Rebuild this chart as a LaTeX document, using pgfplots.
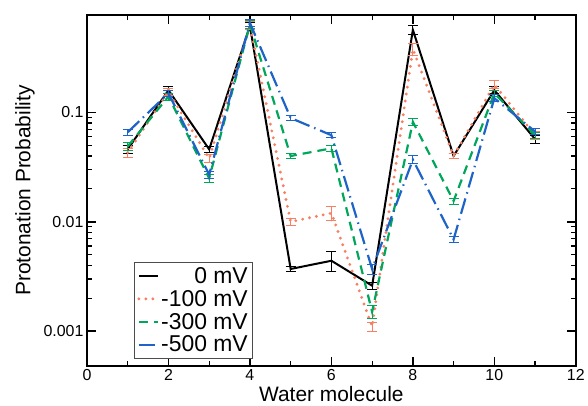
\documentclass[border=0pt]{standalone}
\usepackage{fontspec}
\setmainfont{Liberation Sans}
\usepackage{pgfplots}
\pgfplotsset{compat=1.18}
\usetikzlibrary{calc}
\definecolor{c0}{RGB}{0,0,0}
\definecolor{c100}{RGB}{247,128,100}
\definecolor{c300}{RGB}{0,166,90}
\definecolor{c500}{RGB}{30,100,200}

\begin{document}
\begin{tikzpicture}
\begin{axis}[scale only axis,width=489bp,height=351bp,
xmin=0,xmax=12,ymode=log,ymin=0.00048,ymax=0.78,
xtick={0,2,...,12},minor xtick={1,3,...,11},
xticklabels={0,2,4,6,8,10,12},
ytick={0.001,0.01,0.1},yticklabels={0.001,0.01,0.1},
tick label style={font=\fontsize{16}{18}\selectfont},
label style={font=\fontsize{21}{24}\selectfont},
xlabel={Water molecule},ylabel={Protonation Probability},
xlabel style={yshift=1bp},ylabel style={yshift=2bp},
axis line style={line width=1.8bp},
major tick style={line width=1.5bp,black},minor tick style={line width=1.2bp,black},
major tick length=9bp,minor tick length=5bp,
tick align=inside,
legend cell align=right,
legend style={at={(rel axis cs:0.096,0.02)},anchor=south west,draw=black!70,line width=0.8bp,
 font=\fontsize{23}{25}\selectfont,row sep=1.5bp,inner sep=3bp},
legend image post style={xscale=1.1},
error bars/y dir=both,error bars/y explicit,
error bars/error bar style={line width=1bp,solid},
error bars/error mark options={rotate=90,mark size=5bp,line width=1bp}]
\addplot[c0,line width=2bp] coordinates {(1,0.046)+-(0,0.004)(2,0.16)+-(0,0.012)(3,0.046)+-(0,0.003)(4,0.62)+-(0,0.05)(5,0.0037)+-(0,0.0002)(6,0.0044)+-(0,0.0009)(7,0.0026)+-(0,0.0002)(8,0.57)+-(0,0.05)(9,0.040)+-(0,0.002)(10,0.16)+-(0,0.012)(11,0.057)+-(0,0.005)};
\addplot[c100,line width=3.2bp,line cap=round,dash pattern=on 0bp off 7bp] coordinates {(1,0.043)+-(0,0.004)(2,0.155)+-(0,0.012)(3,0.038)+-(0,0.003)(4,0.63)+-(0,0.05)(5,0.010)+-(0,0.0008)(6,0.012)+-(0,0.0018)(7,0.0011)+-(0,0.0001)(8,0.38)+-(0,0.05)(9,0.040)+-(0,0.002)(10,0.18)+-(0,0.015)(11,0.062)+-(0,0.005)};
\addplot[c300,line width=2.2bp,dash pattern=on 9bp off 6bp] coordinates {(1,0.049)+-(0,0.004)(2,0.14)+-(0,0.01)(3,0.025)+-(0,0.002)(4,0.64)+-(0,0.05)(5,0.040)+-(0,0.002)(6,0.047)+-(0,0.003)(7,0.0015)+-(0,0.0002)(8,0.082)+-(0,0.006)(9,0.0155)+-(0,0.001)(10,0.15)+-(0,0.01)(11,0.062)+-(0,0.004)};
\addplot[c500,line width=2.2bp,dash pattern=on 16bp off 5bp on 1.5bp off 5bp] coordinates {(1,0.066)+-(0,0.004)(2,0.15)+-(0,0.01)(3,0.027)+-(0,0.002)(4,0.66)+-(0,0.05)(5,0.089)+-(0,0.004)(6,0.062)+-(0,0.003)(7,0.0037)+-(0,0.0004)(8,0.037)+-(0,0.003)(9,0.0069)+-(0,0.0005)(10,0.135)+-(0,0.01)(11,0.067)+-(0,0.004)};
\legend{0 mV,-100 mV,-300 mV,-500 mV}
\end{axis}
\path ($(current axis.south west)+(-87bp,-35bp)$) rectangle ($(current axis.north east)+(12bp,15bp)$);
\end{tikzpicture}
\end{document}
